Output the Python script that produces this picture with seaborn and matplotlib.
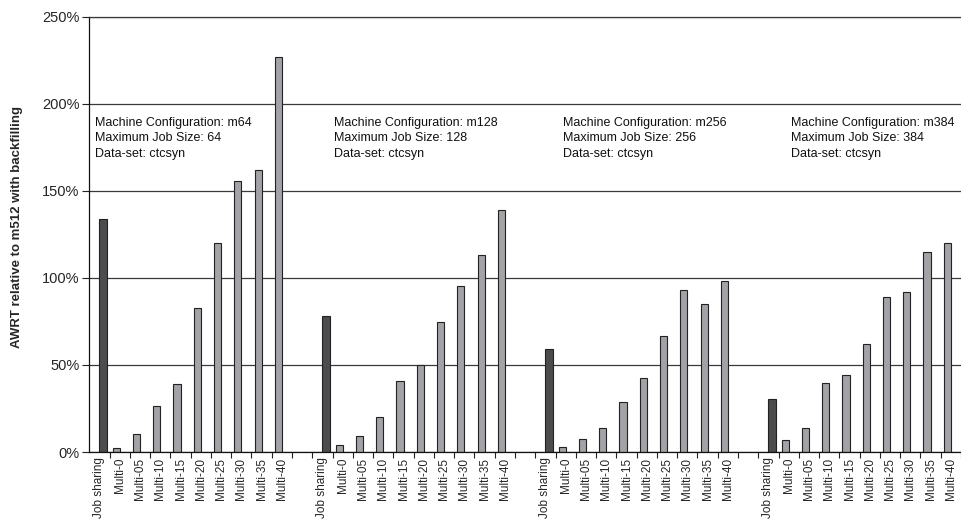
import pandas as pd
import matplotlib
matplotlib.use("Agg")
import matplotlib.pyplot as plt
import seaborn as sns
from matplotlib.ticker import FuncFormatter, FixedLocator

# categorias de cada grupo
categorias = ["Job sharing", "Multi-0", "Multi-05", "Multi-10", "Multi-15",
              "Multi-20", "Multi-25", "Multi-30", "Multi-35", "Multi-40"]
configuracoes = ["m64", "m128", "m256", "m384"]
tamanho_max = [64, 128, 256, 384]

# AWRT relativo ao m512 com backfilling (%)
awrt_m64 = [134, 2.3, 10.3, 26.3, 39.3, 82.5, 120, 155.5, 161.8, 227]
awrt_m128 = [78, 4, 9, 20, 41, 50.2, 74.8, 95.5, 113.2, 139]
awrt_m256 = [59.4, 2.7, 7.3, 13.7, 29, 42.8, 66.8, 93, 85.2, 98.3]
awrt_m384 = [30.7, 6.7, 13.7, 39.5, 44.3, 62.2, 89, 92.2, 115.2, 120]

# posicao x (dados) de cada caixa de texto
texto_x = [-0.22, 11.57, 22.86, 34.1]

valores = [awrt_m64, awrt_m128, awrt_m256, awrt_m384]

linhas = []
ordem = []
rotulos = []
for i, (cfg, vals) in enumerate(zip(configuracoes, valores)):
    for cat, v in zip(categorias, vals):
        chave = f"{cfg}|{cat}"
        serie = "Job sharing" if cat == "Job sharing" else "Multi"
        linhas.append({"chave": chave, "serie": serie, "awrt": v})
        ordem.append(chave)
        rotulos.append(cat)
    if i < len(configuracoes) - 1:
        ordem.append(f"vazio{i}")  # espaco entre grupos
        rotulos.append("")
dados = pd.DataFrame(linhas)

sns.set_style("white")
plt.rcParams["font.family"] = ["Liberation Sans", "DejaVu Sans"]

fig = plt.figure(figsize=(9.61, 5.23), dpi=100)
ax = fig.add_axes([89.3 / 961, 1 - 452 / 523, 1 - 89.3 / 961, (452 - 17) / 523])

sns.barplot(data=dados, x="chave", y="awrt", hue="serie", order=ordem,
            hue_order=["Multi", "Job sharing"],
            palette={"Multi": "#a1a3a7", "Job sharing": "#4b4b50"},
            dodge=True, width=0.7, errorbar=None, edgecolor="#222222",
            linewidth=0.8, legend=False, ax=ax)

ax.set_ylim(0, 250)
ax.set_xlim(-0.5, 42.15)
ax.yaxis.set_major_locator(FixedLocator([0, 50, 100, 150, 200, 250]))
ax.yaxis.set_major_formatter(FuncFormatter(lambda v, p: f"{v:.0f}%"))
ax.tick_params(axis="y", labelsize=10.5, length=5, width=0.8, color="#222222",
               pad=2, left=True)

ax.set_xticks(range(len(ordem)))
ax.set_xticklabels(rotulos, rotation=90, fontsize=8.5, va="top", ha="center")
ax.tick_params(axis="x", length=0, pad=4)
ax.set_xticks([k - 0.5 for k in range(1, len(ordem) + 1)], minor=True)
ax.tick_params(axis="x", which="minor", length=4, width=0.8, color="#222222",
               bottom=True)

ax.yaxis.grid(True, color="#3a3a3a", lw=0.9)
ax.set_axisbelow(True)
for lado in ["left", "bottom"]:
    ax.spines[lado].set_color("#111111")
    ax.spines[lado].set_linewidth(0.9)
ax.spines["top"].set_color("#3a3a3a")
ax.spines["top"].set_linewidth(0.9)
ax.spines["right"].set_visible(False)

ax.set_xlabel("")
ax.set_ylabel("AWRT relative to m512 with backfilling", fontsize=9.5,
              fontweight="bold")
ax.yaxis.set_label_coords(-0.076, 0.517)

for x, cfg, tam in zip(texto_x, configuracoes, tamanho_max):
    ax.text(x, 192.4,
            f"Machine Configuration: {cfg}\nMaximum Job Size: {tam}\nData-set: ctcsyn",
            fontsize=9, va="top", ha="left", linespacing=1.36, color="#111111")

fig.savefig("out.png", dpi=100)
